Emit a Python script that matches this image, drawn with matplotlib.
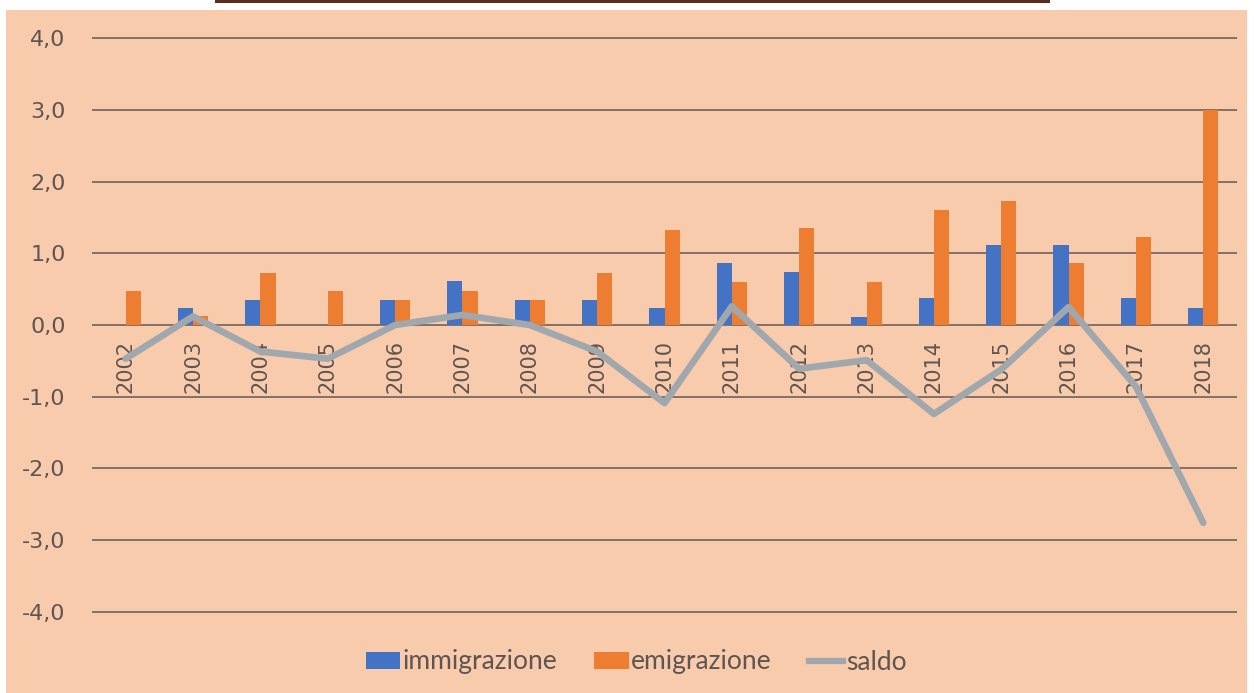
import matplotlib
matplotlib.use('Agg')
import matplotlib.pyplot as plt
from matplotlib.patches import Rectangle, Patch
from matplotlib.lines import Line2D
from matplotlib.ticker import FuncFormatter
import numpy as np

anni = ['2002', '2003', '2004', '2005', '2006', '2007', '2008', '2009', '2010',
        '2011', '2012', '2013', '2014', '2015', '2016', '2017', '2018']
immigrazione = [0.0, 0.24, 0.35, 0.0, 0.35, 0.61, 0.35, 0.35, 0.24,
                0.86, 0.74, 0.11, 0.37, 1.11, 1.11, 0.37, 0.24]
emigrazione = [0.47, 0.12, 0.72, 0.47, 0.35, 0.47, 0.35, 0.72, 1.33,
               0.60, 1.35, 0.60, 1.61, 1.73, 0.86, 1.23, 3.0]
saldo = [-0.47, 0.12, -0.37, -0.47, 0.0, 0.14, 0.0, -0.37, -1.09,
         0.26, -0.61, -0.49, -1.24, -0.62, 0.25, -0.86, -2.76]
yticks = [-4, -3, -2, -1, 0, 1, 2, 3, 4]

PEACH = '#F8CBAD'
BLUE = '#4472C4'
ORANGE = '#ED7D31'
GREY = '#A0A8AE'
TEXT = '#5f5550'

W, H = 1254, 693
fig = plt.figure(figsize=(W / 100, H / 100), dpi=100, facecolor='white')

# background panel and the dark strip on the top edge
fig.patches.append(Rectangle((6 / W, 0), 1241 / W, 1 - 10 / H, transform=fig.transFigure,
                             facecolor=PEACH, edgecolor='none', zorder=-10))
fig.patches.append(Rectangle((215 / W, 1 - 3 / H), 835 / W, 3 / H, transform=fig.transFigure,
                             facecolor='#5b2d1c', edgecolor='none', zorder=-10))

ax = fig.add_axes([92 / W, 1 - 614 / H, (1237 - 92) / W, (614 - 36) / H])
ax.set_facecolor('none')

x = np.arange(len(anni))
bw = 0.225
ax.bar(x - bw / 2, immigrazione, bw, color=BLUE, zorder=3)
ax.bar(x + bw / 2, emigrazione, bw, color=ORANGE, zorder=3)
ax.plot(x, saldo, color=GREY, lw=4.8, solid_joinstyle='round', solid_capstyle='round', zorder=4)

for s in ['top', 'right', 'left']:
    ax.spines[s].set_visible(False)
# x labels sit next to the zero line
ax.spines['bottom'].set_position(('data', 0))
ax.spines['bottom'].set_color('none')

ax.set_xlim(-0.5, len(anni) - 0.5)
ax.set_ylim(-4.03, 4.03)
ax.set_yticks(yticks)
ax.yaxis.set_major_formatter(FuncFormatter(lambda v, p: f'{v:.1f}'.replace('.', ',')))
ax.grid(axis='y', color='#7a6a5e', lw=1.3, zorder=1)
ax.set_xticks(x)
ax.set_xticklabels(anni, rotation=90, va='top', ha='center', fontsize=15, color=TEXT,
                   family='DejaVu Sans')
ax.tick_params(axis='x', length=0, pad=11)
ax.tick_params(axis='y', length=0, pad=19, labelsize=16, labelcolor=TEXT)

handles = [Patch(facecolor=BLUE), Patch(facecolor=ORANGE),
           Line2D([0], [0], color=GREY, lw=4.5)]
fig.legend(handles, ['immigrazione', 'emigrazione', 'saldo'], loc='center',
           bbox_to_anchor=(636 / W, 1 - 662 / H), ncol=3, frameon=False,
           prop={'family': 'Lato', 'size': 19}, labelcolor=TEXT,
           handlelength=1.3, handleheight=0.6, handletextpad=0.1, columnspacing=1.4)

fig.savefig('out.png', dpi=100, facecolor='white')
